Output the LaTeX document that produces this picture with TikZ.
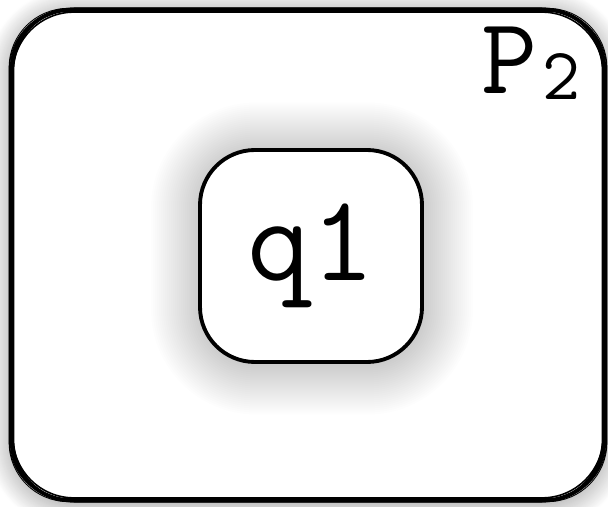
\documentclass[tikz,border=0pt]{standalone}
\usepackage{tikz}
\usetikzlibrary{positioning,calc,shadows.blur}
\tikzset{
  procbox/.style={
    fill=white, rounded corners=1.2cm, inner sep=0pt,
    minimum width=11.84cm, minimum height=9.8cm,
    blur shadow={shadow xshift=0pt, shadow yshift=-2pt, shadow blur steps=25,
      shadow blur radius=0.5cm, shadow opacity=45}
  },
  sketchline/.style={draw=black, line cap=round},
  shadowlayer/.style={fill=black, fill opacity=0.009},
  statebox/.style={
    draw=black, fill=white, line width=2.2pt, rounded corners=1.1cm,
    minimum width=4.44cm, minimum height=4.24cm,
    font=\ttfamily\fontsize{70}{74}\selectfont
  },
  proclabel/.style={font=\ttfamily\fontsize{62}{64}\selectfont, inner sep=0pt}
}
\begin{document}
\begin{tikzpicture}
  \useasboundingbox (0,0) rectangle (12.16,-10.14);
  % process frame, drawn as a few loose strokes
  \node[procbox] (p2box) at (6.16,-5.1) {};
  \foreach \w/\r/\dx/\dy in {2.2/1.2/0/0, 0.8/1.25/0.04/-0.03, 0.6/1.15/-0.045/0.035,
                              0.9/1.22/0.025/0.05, 0.5/1.18/-0.05/-0.025} {
    \draw[sketchline, line width=\w pt, rounded corners=\r cm]
      ($(p2box.south west)+(\dx,\dy)$) rectangle ($(p2box.north east)+(-\dx,-\dy)$);
  }
  \node[proclabel, anchor=south west] (p2lab) at (9.62,-2.0) {P\hspace{3pt}{\fontsize{42}{42}\selectfont\raisebox{-0.08em}{2}}};
  % soft shadow of the state
  \foreach \i in {1,...,25} {
    \pgfmathsetmacro{\e}{\i*0.04}
    \fill[shadowlayer, rounded corners=1.1cm+\e cm]
      ($(6.24,-5.17)+(-2.22-\e,-2.12-\e)$) rectangle ($(6.24,-5.17)+(2.22+\e,2.12+\e)$);
  }
  % state
  \node[statebox] (q1) at (6.22,-5.12) {q1};
\end{tikzpicture}
\end{document}
